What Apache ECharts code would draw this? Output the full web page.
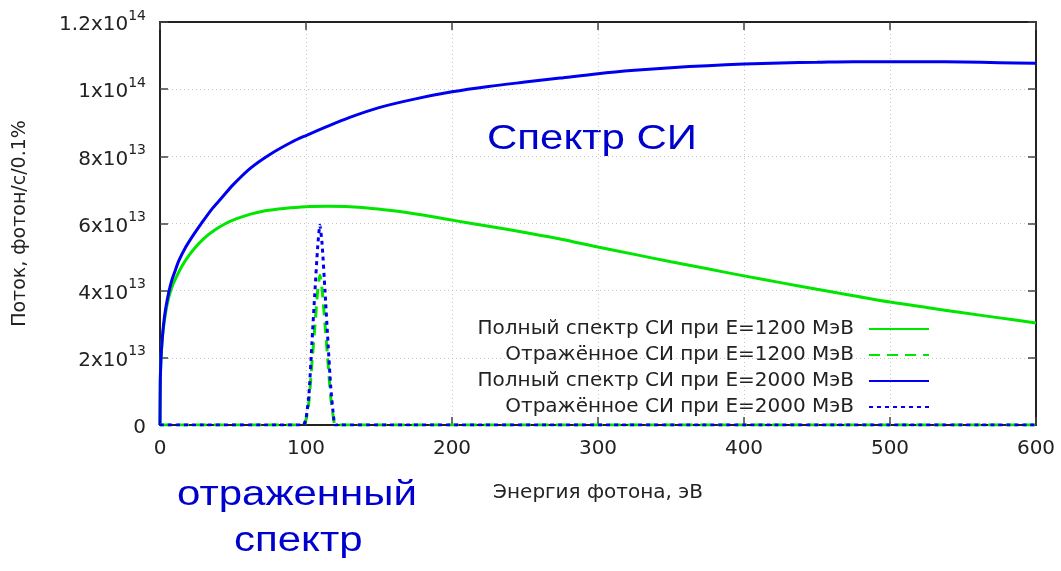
<!DOCTYPE html>
<html><head><meta charset="utf-8">
<script src="https://cdn.jsdelivr.net/npm/echarts@6/dist/echarts.min.js"></script>
<style>html,body{margin:0;padding:0;background:#fff}#c{width:1061px;height:571px}</style>
</head><body><div id="c"></div>
<script>
// ---- data (flux in photons/s/0.1%) ----
const seriesNames = [
  'Полный спектр СИ при E=1200 МэВ',
  'Отражённое СИ при E=1200 МэВ',
  'Полный спектр СИ при E=2000 МэВ',
  'Отражённое СИ при E=2000 МэВ'
];
const fullE1200 = [0,0.2,0.5,1,2,3,4.5,6,7.3,9,12,15,19,24,30,37,45,53,62,72,85,100,115,130,145,160,180,200,225,250,274,300,325,350,375,400,425,450,475,500,525,550,575,600];
const fullF1200 = [0,1.3e13,1.75e13,2.2e13,2.75e13,3.1e13,3.5e13,3.8e13,4.0e13,4.2e13,4.48e13,4.73e13,5.0e13,5.28e13,5.55e13,5.79e13,6.0e13,6.15e13,6.28e13,6.38e13,6.45e13,6.5e13,6.51e13,6.5e13,6.45e13,6.38e13,6.25e13,6.1e13,5.92e13,5.73e13,5.54e13,5.3e13,5.08e13,4.86e13,4.65e13,4.44e13,4.24e13,4.04e13,3.85e13,3.66e13,3.5e13,3.34e13,3.19e13,3.04e13];
const fullE2000 = [0,0.2,0.5,1,2,3,4,6,8,10,13,17,22,28,35,42,50,62,75,90,100,115,130,150,175,200,225,250,274,300,325,350,375,400,425,450,475,500,525,550,575,600];
const fullF2000 = [0,1.3e13,1.78e13,2.25e13,2.8e13,3.2e13,3.5e13,3.95e13,4.3e13,4.55e13,4.9e13,5.25e13,5.6e13,5.98e13,6.4e13,6.75e13,7.15e13,7.65e13,8.05e13,8.42e13,8.62e13,8.9e13,9.16e13,9.45e13,9.71e13,9.92e13,10.08e13,10.21e13,10.33e13,10.46e13,10.56e13,10.64e13,10.7e13,10.75e13,10.78e13,10.8e13,10.82e13,10.82e13,10.82e13,10.81e13,10.79e13,10.77e13];
const reflE = [0,98,100,102,104,106,108,109.5,111,113,115,117,119,120,600];
const reflF1200 = [0,0,0.15e13,0.7e13,1.8e13,2.9e13,4.0e13,4.46e13,4.05e13,3.0e13,1.9e13,0.8e13,0.15e13,0,0];
const reflF2000 = [0,0,0.2e13,0.9e13,2.4e13,3.9e13,5.3e13,5.95e13,5.4e13,4.0e13,2.5e13,1.1e13,0.2e13,0,0];
const xTicks = [0,100,200,300,400,500,600];
const yTickMantissa = ['0','2','4','6','8','1','1.2'];
const yTickExponent = ['','13','13','13','13','14','14'];

const zip = (a, b) => a.map((v, i) => [v, b[i]]);
const GREEN = '#00e600', BLUE = '#0000f0';
const FS = 20;

const gridLine = { show: true, lineStyle: { color: '#c4c4c4', width: 1, type: [1, 3] } };
const frame = { show: true, onZero: false, lineStyle: { color: '#222', width: 2 } };
const tickIn = { show: true, inside: true, length: 8, lineStyle: { color: '#444', width: 1.5 } };
const labelFont = { fontFamily: 'DejaVu Sans', fontSize: FS, color: '#222' };

const chart = echarts.init(document.getElementById('c'), null, { renderer: 'canvas' });
const legendRows = [314, 340, 366, 392];
chart.setOption({
  backgroundColor: '#fff',
  animation: false,
  grid: { left: 160, right: 25, top: 22, bottom: 146 },
  xAxis: [
    { type: 'value', min: 0, max: 600, interval: 100, position: 'bottom',
      axisLine: frame, axisTick: tickIn, splitLine: gridLine,
      axisLabel: Object.assign({ margin: 14 }, labelFont),
      name: 'Энергия фотона, эВ', nameLocation: 'middle', nameGap: 58,
      nameTextStyle: { fontFamily: 'DejaVu Sans', fontSize: FS, color: '#222' } },
    { type: 'value', min: 0, max: 600, interval: 100, position: 'top',
      axisLine: frame, axisTick: tickIn, splitLine: { show: false }, axisLabel: { show: false } }
  ],
  yAxis: [
    { type: 'value', min: 0, max: 1.2e14, interval: 2e13, position: 'left',
      axisLine: frame, axisTick: tickIn, splitLine: gridLine,
      axisLabel: {
        margin: 14,
        formatter: (v) => {
          const i = Math.round(v / 2e13);
          return i === 0 ? '{m|0}' : '{m|' + yTickMantissa[i] + 'x10}{e|' + yTickExponent[i] + '}';
        },
        rich: {
          m: { fontFamily: 'DejaVu Sans', fontSize: FS, color: '#222', lineHeight: 26, verticalAlign: 'bottom' },
          e: { fontFamily: 'DejaVu Sans', fontSize: 14, color: '#222', lineHeight: 26, verticalAlign: 'top' }
        }
      },
      name: 'Поток, фотон/с/0.1%', nameLocation: 'middle', nameGap: 130, nameRotate: 90,
      nameTextStyle: { fontFamily: 'DejaVu Sans', fontSize: 19, color: '#222' } },
    { type: 'value', min: 0, max: 1.2e14, interval: 2e13, position: 'right',
      axisLine: frame, axisTick: tickIn, splitLine: { show: false }, axisLabel: { show: false } }
  ],
  legend: seriesNames.map((n, i) => ({
    data: [n], orient: 'vertical', align: 'right', right: 126, top: legendRows[i],
    itemWidth: 60, itemHeight: 14, itemGap: 0, selectedMode: false,
    itemStyle: { opacity: 0 },
    textStyle: { fontFamily: 'DejaVu Sans', fontSize: FS, color: '#222', padding: [0, 10, 0, 0] }
  })),
  series: [
    { name: seriesNames[0], type: 'line', data: zip(fullE1200, fullF1200), smooth: 0.3, symbol: 'none',
      lineStyle: { color: GREEN, width: 3 }, itemStyle: { color: GREEN }, z: 2 },
    { name: seriesNames[2], type: 'line', data: zip(fullE2000, fullF2000), smooth: 0.3, symbol: 'none',
      lineStyle: { color: BLUE, width: 3 }, itemStyle: { color: BLUE }, z: 3 },
    { name: seriesNames[1], type: 'line', data: zip(reflE, reflF1200), smooth: 0.2, symbol: 'none',
      lineStyle: { color: GREEN, width: 3, type: [11, 7] }, itemStyle: { color: GREEN }, z: 4 },
    { name: seriesNames[3], type: 'line', data: zip(reflE, reflF2000), smooth: 0.2, symbol: 'none',
      lineStyle: { color: BLUE, width: 3, type: [4, 4] }, itemStyle: { color: BLUE }, z: 5 }
  ],
  graphic: [
    { type: 'text', left: 487, top: 122, scaleX: 1.2, style: { text: 'Спектр СИ', fontFamily: 'Liberation Sans', fontSize: 35, fill: '#0000cc' } },
    { type: 'text', left: 177, top: 478, scaleX: 1.2, style: { text: 'отраженный', fontFamily: 'Liberation Sans', fontSize: 35, fill: '#0000cc' } },
    { type: 'text', left: 234, top: 524, scaleX: 1.2, style: { text: 'спектр', fontFamily: 'Liberation Sans', fontSize: 35, fill: '#0000cc' } }
  ]
});
</script></body></html>
